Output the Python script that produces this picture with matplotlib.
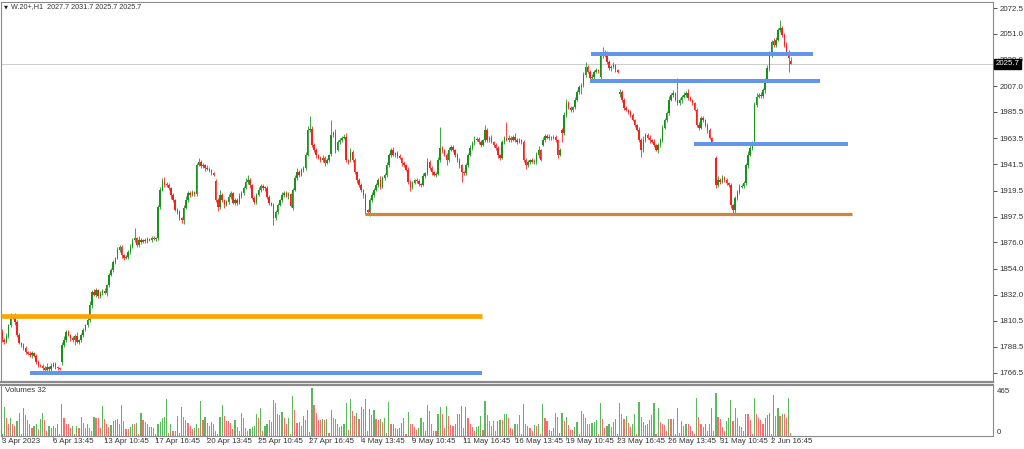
import matplotlib
matplotlib.use("Agg")
import matplotlib.pyplot as plt
import matplotlib.transforms as mtransforms

plt.rcParams["font.family"] = ["Liberation Sans", "DejaVu Sans"]

# ---------------- data (hourly bars, W.20+ H1) ----------------
closes = [
    1794.2,
    1792.5, 1797.5, 1806.7, 1812.6, 1813.4, 1809.3, 1798.4, 1791.7, 1790.0,  # 4 Apr
    1787.5, 1784.1, 1782.4, 1781.6, 1783.3, 1780.8, 1775.7, 1773.2, 1772.4,  # 5 Apr
    1770.7, 1769.0, 1771.5, 1769.9, 1772.4, 1774.0, 1771.5, 1770.7, 1769.9,  # 6 Apr
    1790.0, 1794.2, 1800.9, 1798.4, 1795.8, 1794.2, 1797.5, 1792.5, 1794.2,  # 11 Apr
    1798.4, 1802.5, 1806.7, 1810.9, 1823.5, 1834.4, 1831.9, 1836.1, 1831.1,  # 12 Apr
    1833.6, 1835.3, 1833.6, 1840.3, 1848.7, 1852.9, 1859.6, 1862.9, 1869.6,  # 13 Apr
    1872.1, 1865.4, 1862.9, 1863.8, 1868.0, 1872.1, 1878.0, 1879.7, 1873.8,  # 14 Apr
    1878.0, 1876.3, 1878.0, 1877.2, 1878.8, 1878.0, 1879.7, 1878.8, 1879.7,  # 17 Apr
    1905.7, 1919.9, 1927.5, 1925.0, 1924.1, 1921.6, 1915.7, 1911.5, 1903.2,  # 18 Apr
    1901.5, 1896.4, 1894.8, 1904.8, 1911.5, 1917.4, 1915.7, 1918.3, 1916.6,  # 19 Apr
    1940.9, 1943.4, 1940.1, 1940.9, 1938.4, 1937.6, 1936.7, 1934.2, 1932.5,  # 20 Apr
    1911.5, 1905.7, 1915.7, 1911.5, 1907.4, 1909.9, 1914.1, 1917.4, 1909.0,  # 21 Apr
    1911.5, 1909.0, 1914.9, 1917.4, 1921.6, 1926.6, 1928.3, 1924.1, 1913.2,  # 24 Apr
    1909.9, 1915.7, 1919.9, 1923.3, 1921.6, 1922.0, 1914.1, 1909.0, 1907.4,  # 25 Apr
    1896.4, 1901.5, 1907.4, 1911.5, 1915.7, 1917.4, 1914.9, 1916.6, 1906.5,  # 26 Apr
    1919.9, 1930.0, 1935.0, 1932.5, 1936.7, 1938.4, 1949.3, 1970.2, 1971.0,  # 27 Apr
    1957.7, 1953.5, 1949.3, 1946.8, 1945.1, 1946.8, 1942.6, 1945.1, 1949.3,  # 28 Apr
    1966.0, 1967.7, 1953.5, 1960.2, 1961.8, 1963.5, 1964.4, 1945.1, 1943.4,  # 2 May
    1951.8, 1945.1, 1935.0, 1928.3, 1924.1, 1919.9, 1915.7, 1903.2, 1901.5,  # 4 May
    1911.5, 1915.7, 1919.9, 1924.1, 1928.3, 1922.4, 1930.0, 1932.5, 1940.9,  # 5 May
    1949.3, 1953.5, 1949.3, 1950.9, 1948.6, 1946.8, 1942.6, 1940.9, 1936.7,  # 8 May
    1926.6, 1922.4, 1925.8, 1928.3, 1927.5, 1925.0, 1924.1, 1931.7, 1934.2,  # 9 May
    1943.4, 1938.4, 1935.0, 1932.5, 1933.3, 1945.1, 1955.1, 1953.5, 1949.3,  # 10 May
    1945.1, 1953.5, 1956.0, 1953.5, 1949.3, 1945.1, 1940.9, 1935.0, 1934.2,  # 11 May
    1940.9, 1949.3, 1955.1, 1959.3, 1961.8, 1962.5, 1960.2, 1957.7, 1961.8,  # 12 May
    1970.2, 1961.8, 1963.5, 1960.2, 1957.7, 1955.1, 1949.3, 1946.8, 1960.2,  # 15 May
    1963.5, 1961.8, 1963.5, 1961.8, 1964.4, 1961.8, 1960.2, 1961.8, 1960.2,  # 16 May
    1945.1, 1940.9, 1943.4, 1945.1, 1943.4, 1944.0, 1949.3, 1953.5, 1945.1,  # 17 May
    1961.8, 1965.2, 1963.5, 1964.4, 1963.5, 1964.4, 1961.8, 1949.3, 1953.5,  # 18 May
    1967.7, 1982.8, 1992.9, 1988.7, 1987.0, 1989.5, 1995.4, 2002.0, 2006.3,  # 19 May
    2007.9, 2016.3, 2023.0, 2018.8, 2013.8, 2014.6, 2018.8, 2020.5, 2019.8,  # 22 May
    2033.1, 2032.4, 2034.8, 2027.2, 2022.1, 2023.0, 2024.7, 2020.5, 2018.8,  # 23 May
    2002.0, 1995.4, 1988.7, 1987.0, 1985.3, 1982.8, 1978.6, 1974.4, 1970.2,  # 24 May
    1961.8, 1953.5, 1961.8, 1966.0, 1963.5, 1961.8, 1960.5, 1957.7, 1953.5,  # 25 May
    1957.7, 1961.8, 1971.9, 1978.6, 1984.5, 1995.4, 1999.5, 2001.2, 1995.4,  # 26 May
    1992.9, 1995.4, 1997.9, 1999.5, 2001.2, 1997.0, 1995.4, 1992.9, 1987.0,  # 29 May
    1974.4, 1971.9, 1980.3, 1978.6, 1974.4, 1970.2, 1963.5, 1959.3, 1958.5,  # 30 May
    1924.1, 1928.3, 1926.6, 1930.0, 1928.3, 1925.8, 1924.1, 1907.4, 1903.2,  # 31 May
    1913.2, 1918.3, 1922.4, 1923.3, 1925.8, 1940.9, 1949.3, 1955.1, 1959.3,  # 1 Jun
    1991.2, 1997.9, 1999.5, 1998.8, 2003.7, 2012.1, 2022.1, 2033.1, 2044.0,  # 2 Jun
    2041.5, 2045.7, 2054.1, 2055.7, 2049.9, 2041.5, 2035.6, 2030.6, 2025.7,  # 5 Jun
]

first_open = 1801.0
# opens that differ from the previous close (session gaps)
gap_opens = {28: 1776.0, 100: 1927.5, 136: 1905.0, 154: 1950.0, 163: 1945.0,
             253: 1958.0, 262: 1970.0, 280: 2015.0, 289: 2000.0, 298: 1970.0,
             334: 1946.8, 352: 1961.0, 361: 2044.5, 369: 2027.7}

upper_wick = [
    2.0,
    1.5, 2.5, 1.0, 4.4, 2.0, 3.0, 1.5, 2.0, 1.0,
    2.0, 1.5, 1.0, 2.5, 1.5, 1.0, 2.0, 1.5, 1.0,
    1.5, 2.0, 3.0, 1.0, 2.5, 2.0, 1.5, 1.0, 1.0,
    2.5, 3.0, 2.0, 1.5, 1.0, 2.0, 1.5, 3.5, 1.0,
    1.5, 2.0, 1.0, 2.5, 3.0, 2.0, 2.5, 1.5, 1.0,
    2.0, 1.5, 2.5, 1.0, 2.0, 1.5, 2.0, 1.0, 2.5,
    2.0, 1.5, 1.0, 2.0, 1.5, 2.5, 1.5, 8.0, 1.0,
    3.0, 1.5, 1.0, 2.0, 1.5, 1.0, 2.0, 1.5, 1.0,
    2.0, 2.5, 2.5, 3.0, 1.5, 2.0, 1.0, 1.5, 1.0,
    1.5, 2.0, 1.0, 2.5, 3.5, 2.0, 1.5, 2.0, 1.0,
    2.0, 3.0, 1.5, 2.0, 1.0, 2.5, 1.5, 1.0, 1.0,
    1.5, 2.0, 4.0, 1.5, 1.0, 2.0, 2.5, 1.5, 1.0,
    2.0, 1.5, 2.5, 2.0, 1.5, 3.0, 4.0, 2.0, 1.0,
    1.5, 2.0, 2.5, 1.5, 2.0, 1.0, 1.5, 2.0, 1.0,
    2.0, 1.5, 2.0, 1.0, 2.5, 1.5, 2.0, 1.5, 1.0,
    2.0, 2.5, 3.0, 1.5, 2.0, 1.5, 2.5, 3.0, 11.0,
    3.0, 2.0, 1.5, 1.0, 2.0, 2.5, 1.5, 2.0, 1.0,
    12.6, 2.0, 3.0, 1.5, 2.0, 1.5, 2.5, 3.0, 1.0,
    3.0, 2.0, 1.5, 1.0, 2.0, 1.5, 1.0, 2.0, 1.0,
    2.0, 2.5, 1.5, 2.0, 1.5, 3.0, 2.0, 1.5, 2.5,
    2.0, 1.5, 2.5, 1.0, 2.0, 1.5, 1.0, 2.0, 1.0,
    2.5, 1.5, 2.0, 1.0, 1.5, 2.0, 1.0, 2.5, 1.0,
    3.0, 2.0, 1.5, 1.0, 2.0, 2.5, 17.6, 2.0, 1.0,
    2.0, 2.5, 1.5, 2.0, 1.0, 1.5, 2.0, 1.0, 1.0,
    2.0, 1.5, 2.5, 2.0, 3.0, 1.5, 2.0, 1.5, 1.0,
    4.0, 2.0, 1.5, 2.5, 1.0, 2.0, 1.5, 1.0, 2.0,
    2.0, 13.5, 2.5, 1.5, 2.0, 3.0, 1.5, 2.0, 1.0,
    2.0, 1.5, 2.0, 1.0, 1.5, 2.0, 2.5, 3.0, 1.0,
    2.5, 2.0, 1.5, 2.5, 1.0, 2.0, 1.5, 1.0, 1.5,
    2.0, 2.5, 3.0, 1.5, 2.0, 1.0, 2.5, 2.0, 1.5,
    2.0, 2.5, 4.0, 2.0, 1.5, 2.5, 2.0, 1.5, 1.0,
    2.0, 7.0, 2.5, 1.5, 2.0, 1.5, 2.5, 1.0, 1.0,
    3.0, 2.0, 1.5, 2.0, 1.0, 1.5, 2.0, 1.0, 1.0,
    2.5, 2.0, 3.0, 2.0, 1.5, 2.5, 1.0, 2.0, 1.0,
    2.0, 1.5, 2.5, 2.0, 1.5, 3.0, 2.0, 2.5, 1.0,
    18.4, 2.0, 1.5, 2.5, 2.0, 3.0, 1.5, 1.0, 1.0,
    2.0, 2.5, 1.5, 2.0, 1.0, 1.5, 2.0, 1.0, 1.0,
    2.0, 3.0, 2.0, 2.5, 1.5, 2.0, 1.0, 1.5, 1.0,
    2.0, 1.5, 2.5, 2.0, 1.5, 2.0, 3.0, 2.5, 1.5,
    2.5, 3.0, 2.0, 2.5, 2.0, 1.5, 2.5, 3.0, 2.0,
    3.0, 2.5, 2.0, 6.8, 2.0, 1.5, 2.5, 2.0, 4.0,
]

lower_wick = [
    1.5,
    2.0, 1.0, 1.5, 2.0, 1.0, 2.5, 1.5, 1.0, 2.0,
    1.5, 2.0, 1.0, 1.5, 2.5, 1.0, 2.0, 1.5, 1.0,
    2.0, 1.5, 1.0, 2.5, 1.5, 1.0, 2.0, 1.5, 1.0,
    3.0, 1.5, 2.0, 1.0, 2.5, 1.5, 4.0, 1.0, 1.5,
    2.0, 1.5, 1.0, 2.0, 1.5, 2.5, 1.0, 2.0, 1.5,
    1.5, 2.0, 1.0, 2.5, 1.5, 1.0, 2.0, 1.5, 1.0,
    2.0, 2.5, 1.5, 1.0, 2.0, 1.5, 1.0, 2.0, 1.5,
    1.5, 2.0, 1.0, 1.5, 2.0, 1.0, 1.5, 1.0, 1.5,
    2.0, 1.5, 1.0, 2.5, 1.5, 2.0, 3.0, 1.5, 1.0,
    2.0, 1.5, 2.5, 3.0, 1.0, 1.5, 2.0, 1.0, 1.5,
    1.5, 1.0, 2.0, 1.5, 2.5, 1.0, 2.0, 1.5, 1.0,
    2.0, 3.0, 1.5, 2.0, 2.5, 1.0, 1.5, 2.0, 1.0,
    1.5, 2.0, 1.0, 1.5, 2.0, 1.0, 1.5, 2.5, 1.0,
    2.0, 1.5, 1.0, 2.0, 1.5, 2.5, 2.0, 1.5, 1.0,
    6.0, 2.0, 1.5, 1.0, 2.0, 1.5, 1.0, 2.5, 1.0,
    1.5, 1.0, 2.0, 1.5, 1.0, 2.0, 1.5, 1.0, 1.5,
    2.0, 1.5, 2.5, 1.0, 2.0, 1.5, 2.5, 1.0, 1.5,
    1.5, 2.0, 2.5, 1.0, 1.5, 2.0, 1.0, 2.0, 1.5,
    2.0, 1.5, 2.0, 2.5, 1.5, 2.0, 2.5, 3.7, 1.5,
    3.0, 2.0, 1.5, 1.0, 2.0, 1.5, 1.0, 2.0, 1.5,
    1.5, 2.0, 1.0, 1.5, 2.0, 1.0, 2.5, 1.5, 1.0,
    2.0, 3.0, 1.5, 1.0, 2.0, 1.5, 2.0, 1.0, 1.5,
    2.0, 1.5, 2.5, 1.0, 1.5, 1.0, 2.0, 2.5, 1.0,
    4.0, 1.5, 1.0, 2.0, 1.5, 2.0, 2.5, 8.4, 1.5,
    1.5, 2.0, 1.0, 1.5, 2.0, 1.0, 1.5, 2.0, 1.0,
    2.0, 1.5, 2.0, 1.0, 1.5, 2.0, 2.5, 2.0, 1.0,
    1.5, 1.0, 2.0, 1.5, 1.0, 2.0, 1.5, 1.0, 1.5,
    2.0, 3.0, 1.5, 2.0, 1.0, 1.5, 2.0, 2.5, 1.0,
    1.5, 2.0, 1.0, 1.5, 2.0, 1.0, 1.5, 2.5, 1.0,
    7.5, 2.0, 1.5, 1.0, 2.0, 1.5, 2.0, 1.0, 1.5,
    6.0, 2.0, 1.5, 1.0, 2.0, 2.5, 1.5, 1.0, 1.5,
    2.0, 1.5, 1.0, 2.0, 1.5, 2.5, 1.0, 1.5, 1.0,
    2.5, 1.5, 2.0, 1.0, 1.5, 2.0, 1.0, 1.5, 1.0,
    2.0, 6.0, 1.5, 2.0, 1.0, 2.5, 1.5, 2.0, 1.0,
    2.5, 1.5, 2.0, 1.0, 1.5, 2.0, 1.0, 1.5, 1.0,
    2.0, 1.5, 2.5, 1.0, 2.0, 1.5, 1.0, 2.0, 1.0,
    2.0, 1.5, 1.0, 2.0, 1.5, 2.5, 1.0, 1.5, 1.0,
    2.5, 2.0, 1.5, 1.0, 2.0, 1.5, 2.0, 2.5, 2.6,
    3.0, 2.0, 1.5, 1.0, 2.0, 1.5, 2.5, 1.0, 1.5,
    2.0, 1.5, 1.0, 2.0, 1.5, 2.5, 1.0, 2.0, 1.5,
    2.0, 1.5, 1.0, 2.0, 1.5, 2.0, 1.5, 11.8, 0.0,
]

volumes = [
    23,
    281, 178, 120, 171, 113, 97, 145, 220, 16, 268,
    203, 152, 113, 81, 97, 113, 65, 162, 226, 152,
    48, 97, 81, 97, 81, 113, 16, 307, 171, 120,
    113, 81, 97, 23, 97, 81, 184, 129, 81, 113,
    81, 48, 187, 171, 171, 81, 291, 162, 113, 87,
    107, 145, 152, 162, 113, 300, 145, 65, 65, 87,
    120, 120, 129, 16, 226, 155, 139, 120, 87, 87,
    81, 16, 120, 139, 178, 184, 355, 32, 113, 48,
    48, 194, 32, 281, 184, 152, 129, 97, 65, 81,
    120, 81, 339, 152, 184, 129, 97, 139, 120, 48,
    16, 184, 300, 194, 145, 145, 129, 65, 152, 87,
    48, 226, 171, 81, 48, 65, 87, 97, 210, 171,
    268, 48, 97, 120,
    152, 139, 346, 317, 216, 203, 236, 178, 113, 178,
    16, 388, 249, 129, 139, 97, 194, 155, 249, 39,
    465, 300, 226, 152, 152, 162, 152, 162, 26, 249,
    171, 168, 113, 87, 97, 120, 317, 55, 355, 242,
    194, 226, 162, 284, 258, 355, 48, 258, 203, 252,
    162, 152, 168, 139, 171, 32, 333, 113, 120, 81,
    71, 74, 123, 171, 16, 236, 120, 113, 87, 58,
    81, 171, 139, 48, 300, 242, 113, 48, 48, 210,
    281, 210, 81, 291, 194, 103, 97, 120, 210, 210,
    291, 81, 281, 178, 120, 87, 48, 87, 97, 194,
    55, 339, 200, 145, 97, 145, 48, 145, 152, 152,
    210, 216, 178, 81, 71, 113, 113, 203, 23, 313,
    120, 97,
    74, 48, 107, 97, 113, 23, 307, 171, 145, 58,
    48, 81, 220, 187, 26, 220, 145, 187, 107, 55,
    55, 90, 136, 16, 242, 210, 178, 120, 120, 129,
    139, 152, 16, 323, 168, 74, 97, 113, 87, 139,
    162, 16, 317, 210, 162, 194, 129, 87, 113, 216,
    16, 333,
    184, 136, 107, 120, 152, 200, 323, 16,
    268, 139, 120, 107, 48, 162, 162, 168, 16,
    275, 32, 145, 97, 113, 113, 97, 48, 23,
    365, 187, 120, 90, 113, 48, 120, 275, 48,
    420, 187, 162, 87, 48, 145, 171, 346, 145,
    268, 178, 97, 87, 48, 216, 216, 152, 16,
    371, 216, 178, 155, 113, 178, 203, 226, 16,
    397,
    194, 268, 194, 210, 210, 171, 371, 32,
]

price_ticks = [2072.5, 2051.0, 2029.0, 2007.0, 1985.5, 1963.5, 1941.5, 1919.5,
               1897.5, 1876.0, 1854.0, 1832.0, 1810.5, 1788.5, 1766.5]

date_bars = [0, 24, 48, 72, 96, 120, 144, 168, 192, 216, 240, 264, 288, 312, 336, 360]
date_labels = ["3 Apr 2023", "6 Apr 13:45", "13 Apr 10:45", "17 Apr 16:45",
               "20 Apr 13:45", "25 Apr 10:45", "27 Apr 16:45", "4 May 13:45",
               "9 May 10:45", "11 May 16:45", "16 May 13:45", "19 May 10:45",
               "23 May 16:45", "26 May 13:45", "31 May 10:45", "2 Jun 16:45"]

# horizontal support / resistance objects
level_price = [1813.9, 1766.9, 1899.8, 2034.3, 2011.4, 1958.1]
level_from = [-0.5, 13.1, 169.8, 275.6, 275.1, 323.7]
level_to = [224.6, 224.6, 397.7, 379.4, 382.7, 395.8]
level_color = ["#FFA500", "#6495ED", "#CD853F", "#6495ED", "#6495ED", "#6495ED"]
level_width_px = [4.7, 4.0, 3.2, 4.0, 4.0, 4.0]

last_price = 2025.7
header = "W.20+,H1  2027.7 2031.7 2025.7 2025.7"
volume_label = "Volumes 32"
volume_ticks = [465, 0]

assert len(closes) == len(upper_wick) == len(lower_wick) == len(volumes) == 370

# ---------------- build OHLC ----------------
n = len(closes)
opens = [first_open] + closes[:-1]
for k, v in gap_opens.items():
    opens[k] = v
highs = [max(o, c) + u for o, c, u in zip(opens, closes, upper_wick)]
lows = [min(o, c) - d for o, c, d in zip(opens, closes, lower_wick)]
xs = list(range(n))

GREEN = "#17921a"
RED = "#ff1c1c"
VGREEN = "#5cb85c"
VRED = "#ff6a6a"
TXT = "#333333"
SPINE = "#8a8a8a"
FS = 5.7

W, H = 1024, 449
fig = plt.figure(figsize=(W / 100, H / 100), dpi=100)
fig.patch.set_facecolor("white")

ax = fig.add_axes([1 / W, 1 - 382 / H, 992 / W, 380 / H])
axv = fig.add_axes([1 / W, 1 - 436 / H, 992 / W, 51 / H], sharex=ax)

px = 0.72  # points per pixel at dpi 100

# candles
cols = [GREEN if c >= o else RED for o, c in zip(opens, closes)]
ax.vlines(xs, lows, highs, colors=cols, linewidth=0.8 * px, zorder=2)
bottoms = [min(o, c) for o, c in zip(opens, closes)]
heights = [max(abs(c - o), 0.5) for o, c in zip(opens, closes)]
ax.bar(xs, heights, bottom=bottoms, width=0.68, color=cols, linewidth=0, zorder=2)

# current price line
ax.axhline(last_price, color="#c8c8c8", linewidth=0.9 * px, zorder=1)

# level objects
for p, a, b, c, w in zip(level_price, level_from, level_to, level_color, level_width_px):
    ax.hlines(p, a, b, colors=c, linewidth=w * px, zorder=3)

x0 = -0.468
x1 = x0 + 992 / 2.1375
ax.set_xlim(x0, x1)
ax.set_ylim(1758.95, 2077.55)

ax.yaxis.tick_right()
ax.set_yticks(price_ticks)
ax.set_yticklabels([f"{v:.1f}" for v in price_ticks])
ax.tick_params(axis="y", direction="out", length=3, width=0.6, pad=1.5,
               labelsize=FS, colors=TXT)
ax.tick_params(axis="x", bottom=False, labelbottom=False)
for s in ax.spines.values():
    s.set_color(SPINE)
    s.set_linewidth(0.8)
ax.spines["bottom"].set_linewidth(1.6)

# last price box
tr = mtransforms.blended_transform_factory(ax.transAxes, ax.transData)
ax.text(1.0025, last_price, f"{last_price:.1f}", transform=tr, ha="left", va="center",
        fontsize=FS, color="white", zorder=10, clip_on=False,
        bbox=dict(boxstyle="square,pad=0.2", fc="black", ec="black"))

# header
fig.text(4 / W, 1 - 6.5 / H, "\u25BC", fontsize=3.8, color="#222222", va="center",
         ha="left", family="DejaVu Sans")
fig.text(11 / W, 1 - 6.5 / H, header, fontsize=5.2, color=TXT, va="center", ha="left")

# volumes
vcols = [VGREEN]
for i in range(1, n):
    vcols.append(VGREEN if volumes[i] > volumes[i - 1] else VRED)
axv.bar(xs, volumes, width=0.55, color=vcols, linewidth=0)
axv.set_ylim(0, 465 * 51 / 48)
axv.yaxis.tick_right()
axv.set_yticks(volume_ticks)
axv.set_yticklabels([str(v) for v in volume_ticks])
for lab, va in zip(axv.get_yticklabels(), ["top", "bottom"]):
    lab.set_verticalalignment(va)
axv.tick_params(axis="y", direction="out", length=0, pad=3, labelsize=FS, colors=TXT)
for s in axv.spines.values():
    s.set_color(SPINE)
    s.set_linewidth(0.8)
axv.spines["top"].set_linewidth(1.6)
axv.text(4 / 992, 1 - 6 / 51, volume_label, transform=axv.transAxes, fontsize=FS,
         color=TXT, ha="left", va="center")

axv.set_xticks(date_bars)
axv.set_xticklabels([])
axv.tick_params(axis="x", direction="out", length=3, width=0.6, colors=SPINE)
trv = mtransforms.blended_transform_factory(axv.transData, axv.transAxes)
for b, lab in zip(date_bars, date_labels):
    axv.text(b - 0.2, -5.2 / 51, lab, transform=trv, fontsize=FS, color=TXT,
             ha="left", va="center", clip_on=False)

fig.savefig("out.png", dpi=100, facecolor="white")
